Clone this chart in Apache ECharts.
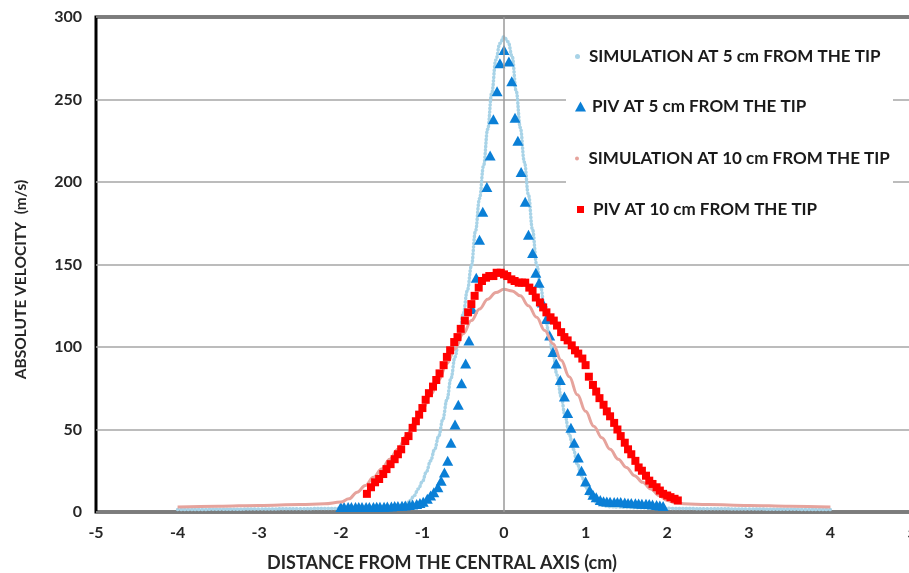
<!DOCTYPE html>
<html>
<head>
<meta charset="utf-8">
<script src="https://cdn.jsdelivr.net/npm/echarts@6/dist/echarts.min.js"></script>
<style>
html,body{margin:0;padding:0;background:#fff;}
#chart{width:909px;height:573px;}
</style>
</head>
<body>
<div id="chart"></div>
<script>
// ---------- DATA ----------
const seriesNames = [
  'SIMULATION AT 5 cm FROM THE TIP',
  'PIV AT 5 cm FROM THE TIP',
  'SIMULATION AT 10 cm FROM THE TIP',
  'PIV AT 10 cm FROM THE TIP'
];
const xAxisTitle = 'DISTANCE FROM THE CENTRAL AXIS (cm)';
const yAxisTitle = 'ABSOLUTE VELOCITY  (m/s)';
const xRange = [-5, 5, 1];
const yRange = [0, 300, 50];

// Simulation at 5 cm: [distance cm, velocity m/s]
const sim5 = [
  [-4.0,1.5],[-3.5,1.6],[-3.0,1.8],[-2.5,2],[-2.0,2.2],[-1.8,2.4],[-1.6,2.6],[-1.5,2.8],[-1.4,3],
  [-1.3,3.4],[-1.25,4],[-1.2,4.8],[-1.15,7],[-1.1,10],[-1.05,14],[-1.0,18.5],[-0.95,24.5],[-0.9,31],
  [-0.85,38],[-0.8,46],[-0.75,56],[-0.7,68],[-0.65,81],[-0.6,94],[-0.55,106],[-0.5,120],[-0.45,134],
  [-0.4,149],[-0.35,170],[-0.3,190],[-0.25,210],[-0.2,232],[-0.15,254],[-0.1,274],[-0.05,284],[0,288],
  [0.05,285],[0.1,276],[0.15,255],[0.2,233],[0.25,212],[0.3,192],[0.35,171],[0.4,150],[0.45,136],
  [0.5,122],[0.55,108],[0.6,96],[0.65,83],[0.7,70],[0.75,58],[0.8,47],[0.85,38],[0.9,29],[0.95,22],
  [1.0,15.5],[1.05,10],[1.1,7],[1.15,5],[1.2,4.2],[1.25,3.6],[1.3,3.2],[1.4,3],[1.5,2.8],[1.6,2.6],
  [1.8,2.4],[2.0,2.2],[2.5,2],[3.0,1.8],[3.5,1.6],[4.0,1.5]
];

// PIV at 5 cm
const piv5 = [
  [-2.00,3],[-1.96,3],[-1.91,3],[-1.87,3],[-1.82,3],[-1.78,3],[-1.74,3],[-1.69,3],[-1.65,3],[-1.60,3],
  [-1.56,3.2],[-1.52,3.2],[-1.47,3.2],[-1.43,3.4],[-1.38,3.4],[-1.34,3.6],[-1.30,3.6],[-1.25,3.8],
  [-1.21,4],[-1.16,4.2],[-1.12,4.5],[-1.07,4.8],[-1.03,5.5],[-0.99,6.2],[-0.94,8],[-0.90,10],[-0.86,12],
  [-0.81,15],[-0.77,19],[-0.73,24],[-0.69,31],[-0.65,42],[-0.60,53],[-0.56,65],[-0.52,78],[-0.47,90],
  [-0.43,104],[-0.39,123],[-0.34,142],[-0.30,165],[-0.26,182],[-0.21,197],[-0.17,216],[-0.13,238],
  [-0.085,255],[-0.05,272],[0,280],[0.06,273],[0.095,261],[0.135,239],[0.17,225],[0.21,206],[0.26,188],
  [0.30,168],[0.35,157],[0.39,145],[0.43,139],[0.47,127],[0.52,117],[0.56,107],[0.60,97],[0.64,90],
  [0.69,80],[0.74,70],[0.78,60],[0.82,51],[0.86,42],[0.91,33],[0.95,25],[1.00,18.5],[1.05,13.3],
  [1.09,10.5],[1.13,9],[1.18,7.3],[1.22,6.5],[1.26,6.3],[1.30,6.2],[1.35,6],[1.39,6],[1.43,6],[1.48,5.8],
  [1.52,5.5],[1.56,5.5],[1.61,5.3],[1.65,5.2],[1.69,5],[1.74,5],[1.78,4.8],[1.82,4.5],[1.87,4.2],
  [1.91,4],[1.95,3.6]
];

// Simulation at 10 cm
const sim10 = [
  [-4.0,3],[-3.5,3.5],[-3.0,4],[-2.5,4.5],[-2.2,5],[-2.0,6],[-1.9,8],[-1.8,12],[-1.7,16],[-1.6,21],
  [-1.5,26],[-1.4,32],[-1.3,38],[-1.2,46],[-1.1,54],[-1.0,62],[-0.9,71],[-0.8,80],[-0.7,90],[-0.6,99],
  [-0.5,108],[-0.4,116],[-0.3,123],[-0.2,129],[-0.1,133],[0,135],[0.1,134],[0.2,131],[0.3,125],
  [0.4,118],[0.5,110],[0.6,102],[0.7,92],[0.8,82],[0.9,71],[1.0,61],[1.1,52],[1.2,45],[1.3,38],
  [1.4,32],[1.5,27],[1.6,22],[1.7,18],[1.8,14],[1.9,10],[2.0,7],[2.1,5.5],[2.2,5],[2.5,4.5],
  [3.0,4],[3.5,3.5],[4.0,3]
];

// PIV at 10 cm
const piv10 = [
  [-1.68,11],[-1.63,15],[-1.58,18],[-1.53,20],[-1.48,23],[-1.44,26],[-1.39,29],[-1.34,32],[-1.30,35],
  [-1.26,38],[-1.21,43],[-1.17,46],[-1.12,51],[-1.08,55],[-1.04,59],[-1.00,63],[-0.96,68],[-0.92,72],
  [-0.87,76],[-0.83,80],[-0.79,84],[-0.74,89],[-0.70,94],[-0.66,98],[-0.61,103],[-0.57,106],[-0.53,111],
  [-0.48,116],[-0.44,121],[-0.40,126],[-0.36,131],[-0.31,136],[-0.27,140],[-0.22,142],[-0.18,143],
  [-0.13,143],[-0.09,145],[-0.04,145],[0.00,144],[0.04,143],[0.09,141],[0.13,140],[0.18,139],[0.22,139],
  [0.26,139],[0.31,136],[0.35,134],[0.39,130],[0.44,127],[0.48,124],[0.52,121],[0.57,118],[0.61,116],
  [0.65,113],[0.70,109],[0.74,106],[0.78,104],[0.83,101],[0.87,98],[0.91,96],[0.96,93],[1.00,89],
  [1.04,82],[1.09,77],[1.13,73],[1.17,69],[1.22,65],[1.26,61],[1.30,58],[1.35,54],[1.39,50],[1.43,46],
  [1.48,42],[1.52,38],[1.56,35],[1.61,31],[1.65,27],[1.69,25],[1.74,22],[1.78,19],[1.82,17],[1.87,15],
  [1.91,13],[1.95,11],[2.00,10],[2.04,9],[2.09,8],[2.13,7]
];

// ---------- STYLE ----------
const C_SIM5 = '#a8d3e7';
const C_PIV5 = '#0a7fd6';
const C_SIM10 = '#e6a39c';
const C_PIV10 = '#ff0000';
const FONT = 'Lato, "Open Sans", sans-serif';
const TXT = '#262626';

const chart = echarts.init(document.getElementById('chart'), null, {renderer: 'canvas'});

const legendText = {fontFamily: FONT, fontWeight: 'bold', fontSize: 17, color: '#1a1a1a'};
function mkLegend(name, icon, w, h, centerY, textPadLeft) {
  return {
    data: [name], icon: icon, itemWidth: w, itemHeight: h,
    left: 580.5 - w / 2, top: centerY - 7, padding: 0,
    selectedMode: false, z: 10,
    textStyle: Object.assign({padding: [0, 0, 0, textPadLeft]}, legendText)
  };
}

const option = {
  animation: false,
  backgroundColor: '#fff',
  grid: {left: 96, top: 17, width: 816, height: 495, outerBoundsMode: 'none', containLabel: false,
         show: true, borderColor: '#000', borderWidth: 3, backgroundColor: 'transparent'},
  xAxis: {
    type: 'value', min: xRange[0], max: xRange[1], interval: xRange[2],
    axisLine: {show: false}, axisTick: {show: false}, splitLine: {show: false},
    axisLabel: {margin: 13, fontFamily: FONT, fontWeight: 'bold', fontSize: 16, color: TXT},
    name: xAxisTitle, nameLocation: 'middle', nameGap: 42,
    nameTextStyle: {fontFamily: FONT, fontWeight: 'bold', fontSize: 18, color: TXT, padding: [0, 124, 0, 0]}
  },
  yAxis: {
    type: 'value', min: yRange[0], max: yRange[1], interval: yRange[2],
    axisLine: {show: false}, axisTick: {show: false},
    splitLine: {show: true, lineStyle: {color: '#a6a6a6', width: 1.5}},
    axisLabel: {margin: 14, fontFamily: FONT, fontWeight: 'bold', fontSize: 16, color: TXT},
    name: yAxisTitle, nameLocation: 'middle', nameGap: 67, nameRotate: 90,
    nameTextStyle: {fontFamily: FONT, fontWeight: 'bold', fontSize: 15.5, color: TXT, padding: [0, 30, 0, 0]}
  },
  graphic: [{
    type: 'rect', z: 5, silent: true,
    shape: {x: 566, y: 30, width: 327, height: 205},
    style: {fill: '#fff'}
  }],
  legend: [
    mkLegend(seriesNames[0], 'circle', 11, 5, 55, 1),
    mkLegend(seriesNames[1], 'triangle', 11, 10, 105, 1),
    mkLegend(seriesNames[2], 'circle', 11, 4, 157, 1),
    mkLegend(seriesNames[3], 'rect', 7, 7, 208, 4)
  ],
  series: [
    {
      name: seriesNames[0], type: 'line', data: sim5, smooth: 0.4, smoothMonotone: 'x',
      showSymbol: false, symbol: 'circle', z: 2,
      itemStyle: {color: C_SIM5},
      lineStyle: {color: C_SIM5, width: 3.5, type: [0.5, 3], cap: 'round'},
      markLine: {
        silent: true, symbol: 'none', label: {show: false},
        lineStyle: {color: '#9a9a9a', width: 1.5, type: 'solid'},
        data: [{xAxis: 0}]
      }
    },
    {
      name: seriesNames[1], type: 'scatter', data: piv5, symbol: 'triangle', symbolSize: [11, 10], z: 3,
      itemStyle: {color: C_PIV5, opacity: 1}
    },
    {
      name: seriesNames[2], type: 'line', data: sim10, smooth: 0.4, smoothMonotone: 'x',
      showSymbol: false, symbol: 'circle', z: 4,
      itemStyle: {color: C_SIM10},
      lineStyle: {color: C_SIM10, width: 3}
    },
    {
      name: seriesNames[3], type: 'scatter', data: piv10, symbol: 'rect', symbolSize: 8, z: 5,
      itemStyle: {color: C_PIV10, opacity: 1}
    }
  ]
};
chart.setOption(option);
</script>
</body>
</html>
